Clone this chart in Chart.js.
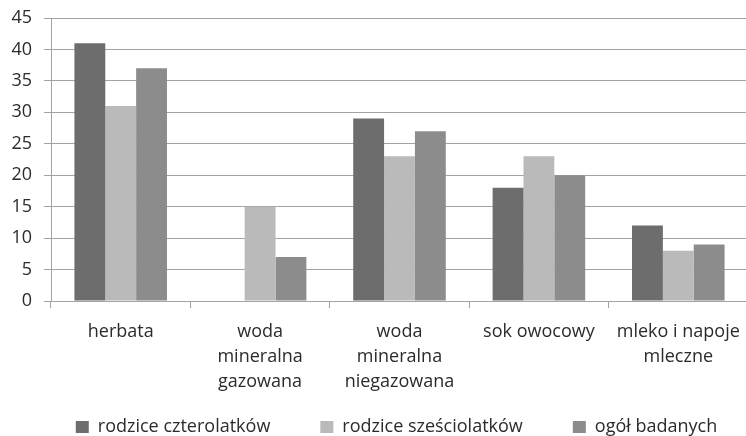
<!DOCTYPE html>
<html>
<head>
<meta charset="utf-8">
<script src="https://cdn.jsdelivr.net/npm/chart.js@4.4.1/dist/chart.umd.min.js"></script>
<style>
  html, body { margin: 0; padding: 0; background: #fff; overflow: hidden; }
  #wrap { width: 746px; height: 436px; overflow: hidden; }
</style>
</head>
<body>
<div id="wrap"><canvas id="chart" width="793" height="446"></canvas></div>
<script>
var categories = [
    ['herbata'],
    ['woda', 'mineralna', 'gazowana'],
    ['woda', 'mineralna', 'niegazowana'],
    ['sok owocowy'],
    ['mleko i napoje', 'mleczne']
];
var seriesNames = ['rodzice czterolatków', 'rodzice sześciolatków', 'ogół badanych'];
var czterolatki = [41, 0, 29, 18, 12];
var szesciolatki = [31, 15, 23, 23, 8];
var ogol = [37, 7, 27, 20, 9];
var yMax = 45;
var yStep = 5;

var fontFamily = "'Open Sans', sans-serif";
var gridColor = '#a3a3a3';
var textColor = '#2b2b2b';

// x labels run three lines deep, let them draw below the (short) x axis box
var labelRoom = {
    id: 'labelRoom',
    afterLayout: function(chart) {
        chart.scales.x.bottom = chart.height;
    }
};

new Chart(document.getElementById('chart'), {
    type: 'bar',
    data: {
        labels: categories,
        datasets: [{
            label: seriesNames[0],
            data: czterolatki,
            backgroundColor: '#6d6d6d'
        }, {
            label: seriesNames[1],
            data: szesciolatki,
            backgroundColor: '#bababa'
        }, {
            label: seriesNames[2],
            data: ogol,
            backgroundColor: '#8c8c8c'
        }]
    },
    plugins: [labelRoom],
    options: {
        responsive: false,
        animation: false,
        devicePixelRatio: 1,
        layout: { padding: { top: 18, right: 0, left: 0, bottom: 0 } },
        datasets: {
            bar: { categoryPercentage: 0.664, barPercentage: 1.0, borderWidth: 0 }
        },
        scales: {
            y: {
                min: 0,
                max: yMax,
                afterFit: function(scale) {
                    scale.width = 51;
                    scale.paddingTop = 0;
                    scale.paddingBottom = 0;
                },
                ticks: {
                    stepSize: yStep,
                    padding: 12,
                    color: textColor,
                    font: { family: fontFamily, size: 18 }
                },
                grid: { color: gridColor, tickLength: 7, lineWidth: 1 },
                border: { color: gridColor }
            },
            // empty spacer on the right so the legend centres like the original
            spacer: {
                position: 'right',
                afterFit: function(scale) { scale.width = 45; },
                grid: { display: false },
                ticks: { display: false },
                border: { display: false }
            },
            x: {
                afterFit: function(scale) { scale.height = 67; },
                ticks: {
                    padding: 11,
                    color: textColor,
                    maxRotation: 0,
                    autoSkip: false,
                    font: { family: fontFamily, size: 18, lineHeight: 1.39 }
                },
                grid: { drawOnChartArea: false, offset: true, color: gridColor, tickLength: 7 },
                border: { color: gridColor }
            }
        },
        plugins: {
            legend: {
                position: 'bottom',
                labels: {
                    boxWidth: 13,
                    boxHeight: 12,
                    padding: 50,
                    color: textColor,
                    font: { family: fontFamily, size: 18 }
                }
            },
            tooltip: { enabled: false }
        }
    }
});
</script>
</body>
</html>
